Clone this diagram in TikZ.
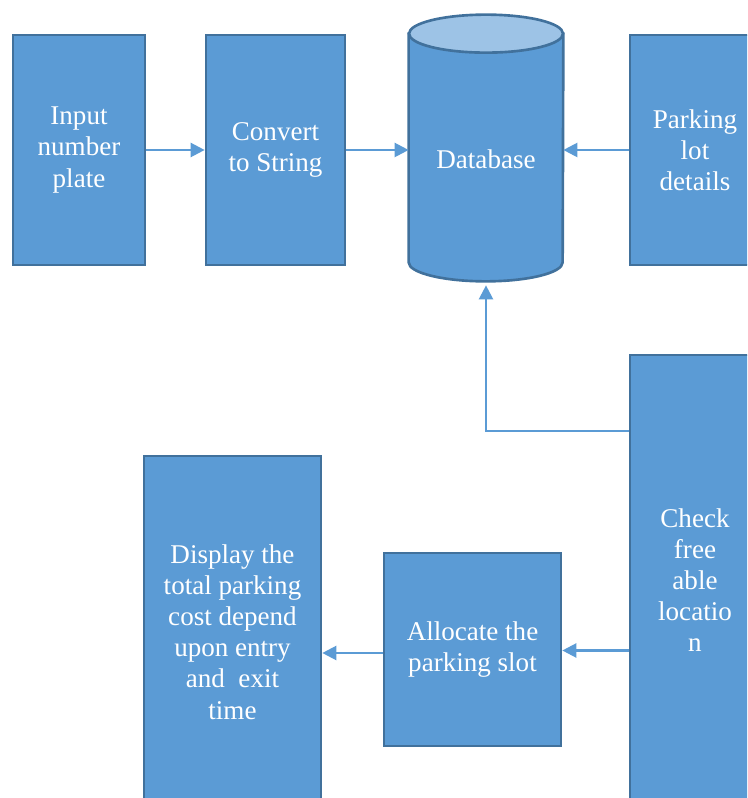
\documentclass[tikz,border=0pt]{standalone}
\usepackage{fontspec}
\setmainfont{Liberation Serif}
\usetikzlibrary{arrows.meta}

\definecolor{boxfill}{HTML}{5B9BD5}
\definecolor{boxline}{HTML}{41719C}
\definecolor{dbtop}{HTML}{9DC3E6}

\begin{document}
\begin{tikzpicture}[
	blk/.style={draw=boxline, line width=1.5pt, fill=boxfill, text=white,
		align=center, font=\fontsize{15.4}{17.7}\selectfont},
	flow/.style={draw=boxfill, line width=1.3pt, -{Triangle[length=0.28cm,width=0.28cm]}}
	]
	\useasboundingbox (0,0) rectangle (14.94,15.96);
	\clip (0,0) rectangle (14.94,15.96);
	
	% top row
	\node[blk, minimum width=2.64cm, minimum height=4.6cm] (plate) at (1.58,12.96) {Input\\number\\plate};
	\node[blk, minimum width=2.78cm, minimum height=4.6cm] (conv) at (5.51,12.96) {Convert\\to String};
	\node[blk, minimum width=2.6cm, minimum height=4.6cm] (lot) at (13.9,12.96) {Parking\\lot\\details};
	
	% database
	\node[minimum width=3.08cm, minimum height=5.32cm, inner sep=0pt] (db) at (9.72,13.0) {};
	\path[draw=boxline, line width=1.5pt, fill=boxfill]
	([yshift=-0.38cm]db.north west) -- ([yshift=0.38cm]db.south west)
	arc[start angle=180, end angle=360, x radius=1.54cm, y radius=0.38cm]
	-- ([yshift=-0.38cm]db.north east) -- cycle;
	\draw[boxline, line width=1.5pt, fill=dbtop] ([yshift=-0.38cm]db.north) ellipse[x radius=1.54cm, y radius=0.38cm];
	\node[blk, draw=none, fill=none] (dblabel) at ([yshift=-0.22cm]db.center) {Database};
	
	% lower part
	\node[blk, minimum width=2.6cm, minimum height=9.0cm] (check) at (13.9,4.36) {Check\\free\\able\\locatio\\n};
	\node[blk, minimum width=3.54cm, minimum height=3.86cm] (alloc) at (9.45,2.97) {Allocate the\\parking slot};
	\node[blk, minimum width=3.54cm, minimum height=7.04cm] (cost) at (4.65,3.32) {Display the\\total parking\\cost depend\\upon entry\\and~ exit\\time};
	\coordinate (turn) at (12.6,7.34);
	
	% connectors
	\draw[flow] (plate.east) -- (conv.west);
	\draw[flow] (conv.east) -- (conv.east -| db.west);
	\draw[flow] (lot.west) -- (lot.west -| db.east);
	\draw[flow, shorten >=0.08cm] (check.west |- turn) -| (db.south);
	\draw[flow] ([yshift=-0.02cm]check.west |- alloc.east) -- ([yshift=-0.02cm]alloc.east);
	\draw[flow] ([yshift=-0.07cm]alloc.west) -- ([yshift=-0.07cm]alloc.west -| cost.east);
\end{tikzpicture}
\end{document}
